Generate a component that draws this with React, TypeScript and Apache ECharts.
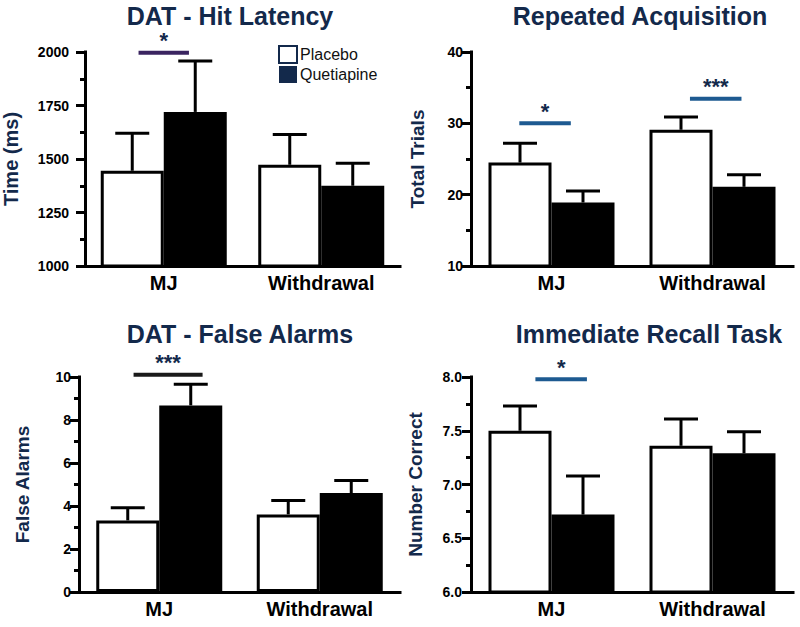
import React, { useEffect, useRef } from 'react';
import * as echarts from 'echarts';

const categories = ['MJ', 'Withdrawal'];
const groupNames = ['Placebo', 'Quetiapine'];

// DAT - Hit Latency
const latencyPlacebo = [1445, 1473];
const latencyPlaceboSem = [175, 141];
const latencyQuet = [1720, 1375];
const latencyQuetSem = [238, 105];
const latencyAxis = { min: 1000, max: 2000, interval: 250 };
const latencySig = [{ cat: 0, y: 1997, from: -0.16, to: 0.16, label: '*' }];

// Repeated Acquisition
const trialsPlacebo = [24.5, 29.1];
const trialsPlaceboSem = [2.7, 1.8];
const trialsQuet = [18.9, 21.1];
const trialsQuetSem = [1.6, 1.7];
const trialsAxis = { min: 10, max: 40, interval: 10 };
const trialsSig = [
  { cat: 0, y: 30.0, from: -0.2, to: 0.12, label: '*' },
  { cat: 1, y: 33.45, from: -0.14, to: 0.18, label: '***' },
];

// DAT - False Alarms
const alarmsPlacebo = [3.33, 3.61];
const alarmsPlaceboSem = [0.59, 0.65];
const alarmsQuet = [8.68, 4.6];
const alarmsQuetSem = [0.98, 0.59];
const alarmsAxis = { min: 0, max: 10, interval: 2 };
const alarmsSig = [{ cat: 0, y: 10.1, from: -0.16, to: 0.27, label: '***' }];

// Immediate Recall Task
const recallPlacebo = [7.5, 7.36];
const recallPlaceboSem = [0.23, 0.25];
const recallQuet = [6.72, 7.29];
const recallQuetSem = [0.36, 0.2];
const recallAxis = { min: 6, max: 8, interval: 0.5 };
const recallSig = [{ cat: 0, y: 7.98, from: -0.1, to: 0.22, label: '*' }];

const FONT = '"Liberation Sans", Arial, Helvetica, sans-serif';
const NAVY = '#13294b';
const BAR_W = 63;
const CAP_W = 34;

const panels = [
  {
    title: 'DAT - Hit Latency', yName: 'Time (ms)',
    placebo: latencyPlacebo, placeboSem: latencyPlaceboSem, quet: latencyQuet, quetSem: latencyQuetSem,
    axis: latencyAxis, sig: latencySig, decimals: 0,
    grid: { left: 79, top: 52, width: 321, height: 214 }, titleX: 230, titleY: 16,
    nameGap: 64, nameSize: 20, labelMargin: 16, sigColor: '#3a2460',
  },
  {
    title: 'Repeated Acquisition', yName: 'Total Trials',
    placebo: trialsPlacebo, placeboSem: trialsPlaceboSem, quet: trialsQuet, quetSem: trialsQuetSem,
    axis: trialsAxis, sig: trialsSig, decimals: 0,
    grid: { left: 471, top: 52, width: 322, height: 214 }, titleX: 640, titleY: 16,
    nameGap: 44, nameSize: 19, labelMargin: 8, sigColor: '#1d5a91',
  },
  {
    title: 'DAT - False Alarms', yName: 'False Alarms',
    placebo: alarmsPlacebo, placeboSem: alarmsPlaceboSem, quet: alarmsQuet, quetSem: alarmsQuetSem,
    axis: alarmsAxis, sig: alarmsSig, decimals: 0,
    grid: { left: 79, top: 377, width: 321, height: 215 }, titleX: 240, titleY: 334,
    nameGap: 47, nameSize: 19, labelMargin: 8, sigColor: '#1a1a1a',
  },
  {
    title: 'Immediate Recall Task', yName: 'Number Correct',
    placebo: recallPlacebo, placeboSem: recallPlaceboSem, quet: recallQuet, quetSem: recallQuetSem,
    axis: recallAxis, sig: recallSig, decimals: 1,
    grid: { left: 471, top: 377, width: 322, height: 215 }, titleX: 649, titleY: 334,
    nameGap: 46, nameSize: 19, labelMargin: 9, sigColor: '#1d5a91',
  },
];

function errRender(sign: number) {
  return (params: any, api: any) => {
    const cat = api.value(0);
    const mean = api.value(1);
    const sem = api.value(2);
    const base = api.coord([cat, mean]);
    const top = api.coord([cat, mean + sem]);
    const x = base[0] + (sign * BAR_W) / 2;
    return {
      type: 'group',
      children: [
        { type: 'line', shape: { x1: x, y1: base[1], x2: x, y2: top[1] }, style: { stroke: '#000', lineWidth: 3 } },
        { type: 'line', shape: { x1: x - CAP_W / 2, y1: top[1], x2: x + CAP_W / 2, y2: top[1] }, style: { stroke: '#000', lineWidth: 3 } },
      ],
    };
  };
}

function sigRender(sig: any[], color: string) {
  return (params: any, api: any) => {
    const s = sig[params.dataIndex];
    const p = api.coord([s.cat, s.y]);
    const bw = api.size([1, 0])[0];
    const x1 = p[0] + s.from * bw;
    const x2 = p[0] + s.to * bw;
    return {
      type: 'group',
      children: [
        { type: 'line', shape: { x1, y1: p[1], x2, y2: p[1] }, style: { stroke: color, lineWidth: 4 } },
        {
          type: 'text', x: (x1 + x2) / 2, y: p[1] - 12,
          style: {
            text: s.label, fill: NAVY, fontSize: 22, fontWeight: 'bold', fontFamily: FONT,
            textAlign: 'center', textVerticalAlign: 'middle',
          },
        },
      ],
    };
  };
}

export default function App() {
  const ref = useRef<HTMLDivElement>(null);
  useEffect(() => {
    if (!ref.current) return;
    const chart = echarts.init(ref.current, undefined, { renderer: 'svg' });
    const grid: any[] = [];
    const xAxis: any[] = [];
    const yAxis: any[] = [];
    const series: any[] = [];
    const graphic: any[] = [];
    panels.forEach((p, i) => {
      grid.push({ ...p.grid, containLabel: false });
      xAxis.push({
        type: 'category', gridIndex: i, data: categories,
        axisLine: { lineStyle: { color: '#000', width: 3, cap: 'square' } },
        axisTick: { show: false },
        axisLabel: { color: '#000', fontSize: 20, fontWeight: 'bold', fontFamily: FONT, margin: 7 },
      });
      yAxis.push({
        type: 'value', gridIndex: i, min: p.axis.min, max: p.axis.max, interval: p.axis.interval,
        name: p.yName, nameLocation: 'middle', nameGap: p.nameGap, nameRotate: 90,
        nameTextStyle: { color: NAVY, fontSize: p.nameSize, fontWeight: 'bold', fontFamily: FONT },
        axisLine: { show: true, lineStyle: { color: '#000', width: 3, cap: 'square' } },
        axisTick: { show: true, length: 9, lineStyle: { color: '#000', width: 3 } },
        minorTick: { show: true, splitNumber: 2, length: 5, lineStyle: { color: '#000', width: 3 } },
        splitLine: { show: false },
        axisLabel: {
          color: '#000', fontSize: 14, fontWeight: 'bold', fontFamily: FONT, margin: p.labelMargin,
          formatter: (v: number) => v.toFixed(p.decimals),
        },
      });
      series.push({
        type: 'bar', name: groupNames[0], xAxisIndex: i, yAxisIndex: i, data: p.placebo,
        barWidth: BAR_W, barGap: '0%', z: 2,
        itemStyle: { color: '#fff', borderColor: '#000', borderWidth: 3 },
      });
      series.push({
        type: 'bar', name: groupNames[1], xAxisIndex: i, yAxisIndex: i, data: p.quet,
        barWidth: BAR_W, barGap: '0%', z: 2,
        itemStyle: { color: '#000', borderColor: '#000', borderWidth: 3 },
      });
      series.push({
        type: 'custom', xAxisIndex: i, yAxisIndex: i, z: 3, silent: true,
        data: categories.map((_, k) => [k, p.placebo[k], p.placeboSem[k]]),
        renderItem: errRender(-1),
      });
      series.push({
        type: 'custom', xAxisIndex: i, yAxisIndex: i, z: 3, silent: true,
        data: categories.map((_, k) => [k, p.quet[k], p.quetSem[k]]),
        renderItem: errRender(1),
      });
      series.push({
        type: 'custom', xAxisIndex: i, yAxisIndex: i, z: 4, silent: true, clip: false,
        data: p.sig.map((s) => [s.cat, s.y]),
        renderItem: sigRender(p.sig, p.sigColor),
      });
      graphic.push({
        type: 'text', x: p.titleX, y: p.titleY,
        style: {
          text: p.title, fill: NAVY, fontSize: 25, fontWeight: 'bold', fontFamily: FONT,
          textAlign: 'center', textVerticalAlign: 'middle',
        },
      });
    });
    chart.setOption({
      animation: false,
      backgroundColor: '#fff',
      grid, xAxis, yAxis, series, graphic,
      legend: {
        orient: 'vertical', left: 273, top: 40, itemWidth: 18, itemHeight: 17, itemGap: 2,
        selectedMode: false,
        textStyle: { color: '#111', fontSize: 16, fontFamily: FONT, padding: [0, 0, 0, -2] },
        data: [
          { name: groupNames[0], icon: 'rect', itemStyle: { color: '#fff', borderColor: NAVY, borderWidth: 2 } },
          { name: groupNames[1], icon: 'rect', itemStyle: { color: NAVY, borderWidth: 0 } },
        ],
      },
    });
    return () => chart.dispose();
  }, []);
  return <div ref={ref} style={{ position: 'fixed', left: 0, top: 0, width: 800, height: 627 }} />;
}
